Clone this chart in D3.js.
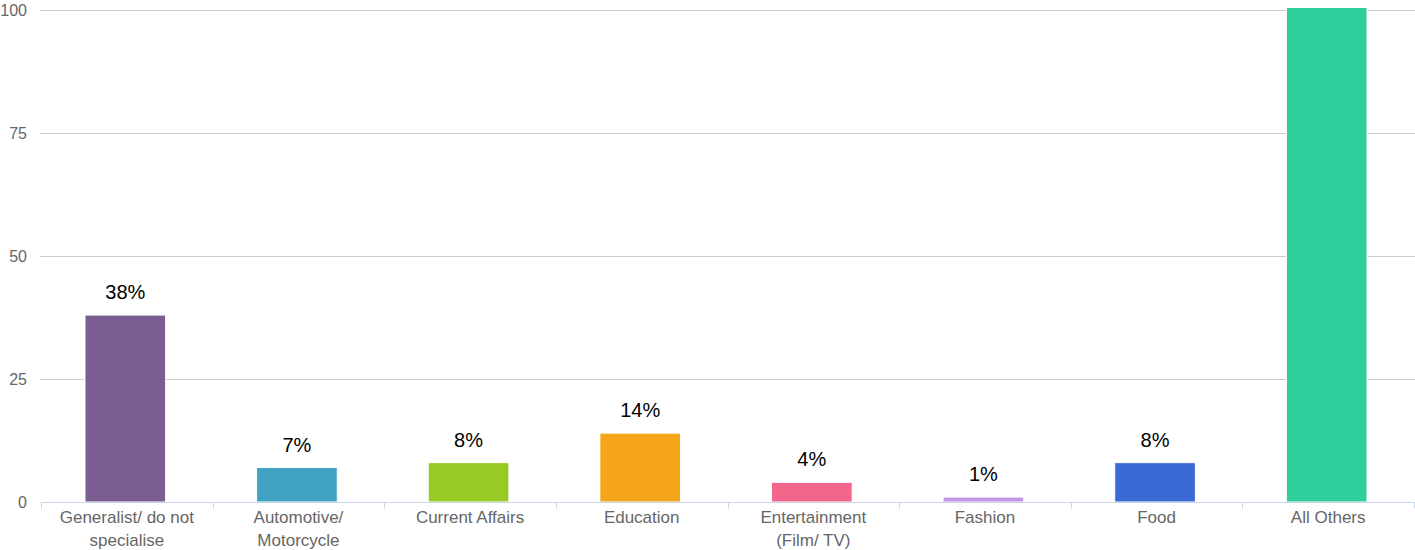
<!DOCTYPE html>
<html>
<head>
<meta charset="utf-8">
<script src="https://cdn.jsdelivr.net/npm/d3@7"></script>
<style>
  html, body { margin: 0; padding: 0; background: #fff; }
  svg { display: block; font-family: "Liberation Sans", Arial, Helvetica, sans-serif; }
</style>
</head>
<body>
<svg id="chart" width="1415" height="550"></svg>
<script>
// Share of respondents by specialism (percent)
const categories = [
  ["Generalist/ do not", "specialise"],
  ["Automotive/", "Motorcycle"],
  ["Current Affairs"],
  ["Education"],
  ["Entertainment", "(Film/ TV)"],
  ["Fashion"],
  ["Food"],
  ["All Others"]
];
const values = [38, 7, 8, 14, 4, 1, 8, 101];
const valueLabels = ["38%", "7%", "8%", "14%", "4%", "1%", "8%", null];
const colors = ["#7b5e91", "#3fa2c2", "#98c925", "#f4a51a", "#f1668a", "#c394e6", "#3a6bd4", "#2ecf9d"];
const yTicks = [0, 25, 50, 75, 100];

const svg = d3.select("#chart");
const margin = { left: 41, right: 1, top: 8, bottom: 48 };
const W = 1415, H = 550;

const x = d3.scaleBand()
  .domain(d3.range(categories.length))
  .range([margin.left, W - margin.right])
  .paddingInner(0.53)
  .paddingOuter(0.265);

const y = d3.scaleLinear().domain([0, 100]).range([502, 10]);

// horizontal grid lines
svg.append("g")
  .selectAll("line")
  .data(yTicks.filter(d => d > 0))
  .join("line")
  .attr("x1", 40).attr("x2", W)
  .attr("y1", d => y(d) + 0.5).attr("y2", d => y(d) + 0.5)
  .attr("stroke", "#cccccc").attr("stroke-width", 1);

// y tick labels
svg.append("g")
  .selectAll("text")
  .data(yTicks)
  .join("text")
  .attr("x", 27)
  .attr("y", d => y(d) + 6)
  .attr("text-anchor", "end")
  .attr("fill", "#666666")
  .attr("font-size", 16)
  .text(d => d);

// bars, clipped to the plot area
svg.append("clipPath").attr("id", "plot")
  .append("rect").attr("x", margin.left).attr("y", margin.top)
  .attr("width", W - margin.left - margin.right).attr("height", 502 - margin.top);

svg.append("g").attr("clip-path", "url(#plot)")
  .selectAll("rect")
  .data(values)
  .join("rect")
  .attr("x", (d, i) => x(i) - 1.5)
  .attr("y", d => y(d))
  .attr("width", x.bandwidth())
  .attr("height", d => y(0) - y(d))
  .attr("fill", (d, i) => colors[i])
  .attr("stroke", "#ffffff")
  .attr("stroke-width", 1);

// x axis line and category separators
const axisY = 502.5;
const ax = svg.append("g");
ax.append("line")
  .attr("x1", margin.left).attr("x2", W)
  .attr("y1", axisY).attr("y2", axisY)
  .attr("stroke", "#ccd6eb").attr("stroke-width", 1);
const step = x.step();
const edges = d3.range(categories.length + 1).map(i => x(0) - x.paddingOuter() * step + i * step);
ax.selectAll("line.tick")
  .data(edges)
  .join("line")
  .attr("class", "tick")
  .attr("x1", d => Math.round(d) + 0.5).attr("x2", d => Math.round(d) + 0.5)
  .attr("y1", axisY).attr("y2", axisY + 6)
  .attr("stroke", "#ccd6eb").attr("stroke-width", 1);

// category labels
const catG = svg.append("g");
categories.forEach((lines, i) => {
  const cx = x(i) + x.bandwidth() / 2;
  const t = catG.append("text")
    .attr("x", cx)
    .attr("y", 523)
    .attr("text-anchor", "middle")
    .attr("fill", "#666666")
    .attr("font-size", 17);
  lines.forEach((ln, j) => {
    t.append("tspan")
      .attr("x", cx)
      .attr("dy", j === 0 ? 0 : 23)
      .text(ln);
  });
});

// value labels above bars
svg.append("g")
  .selectAll("text")
  .data(values.map((v, i) => ({ v, i })).filter(d => valueLabels[d.i] !== null))
  .join("text")
  .attr("x", d => x(d.i) + x.bandwidth() / 2 - 1.5)
  .attr("y", d => y(d.v) - 16)
  .attr("text-anchor", "middle")
  .attr("fill", "#000000")
  .attr("font-size", 20)
  .text(d => valueLabels[d.i]);
</script>
</body>
</html>
